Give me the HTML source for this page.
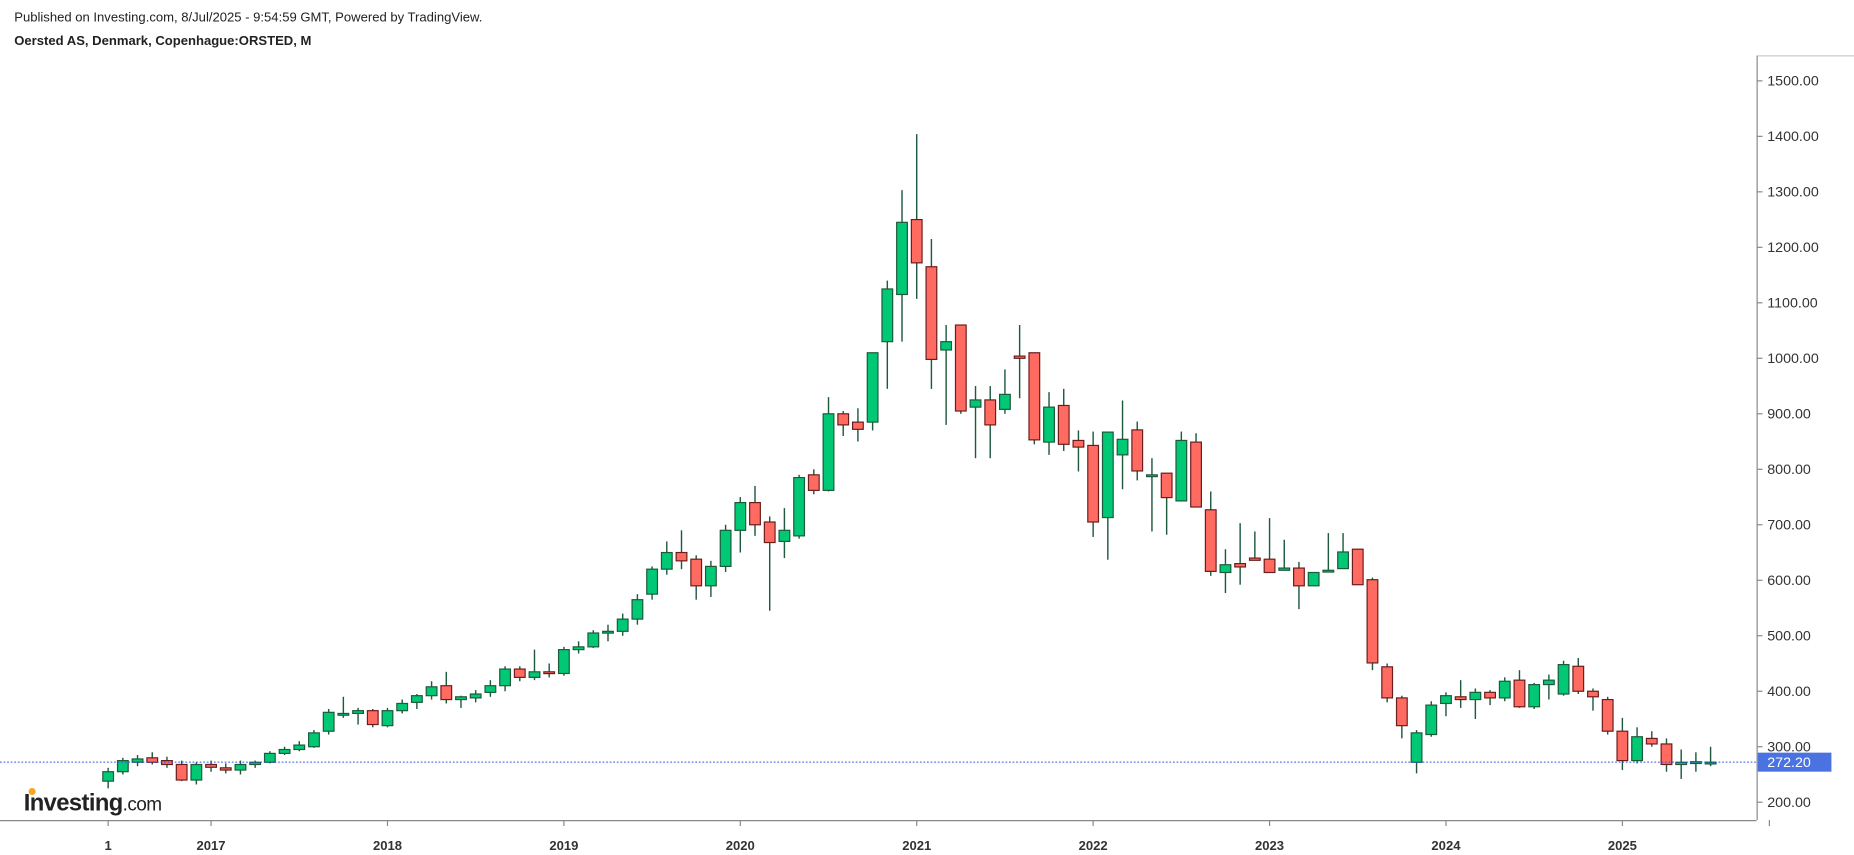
<!DOCTYPE html>
<html><head><meta charset="utf-8">
<style>
html,body{margin:0;padding:0;background:#fff;}
svg{display:block;font-family:"Liberation Sans",Arial,sans-serif;}
</style></head>
<body>
<svg id="chart" width="1854" height="855" viewBox="0 0 1560 719.4" xmlns="http://www.w3.org/2000/svg">
  <rect x="0" y="0" width="1560" height="720" fill="#fff"/>
  <text x="12" y="18" font-size="11" fill="#222">Published on Investing.com, 8/Jul/2025 - 9:54:59 GMT, Powered by TradingView.</text>
  <text x="12" y="38" font-size="11" font-weight="bold" fill="#222">Oersted AS, Denmark, Copenhague:ORSTED, M</text>
  <line x1="1478" y1="47" x2="1560" y2="47" stroke="#ccc"/>
  <line x1="1478.5" y1="47" x2="1478.5" y2="690" stroke="#888"/>
  <line x1="0" y1="690.5" x2="1478" y2="690.5" stroke="#888"/>
  <g id="yaxis"></g>
  <g id="xaxis"></g>
  <g id="candles"></g>
  <g id="last"></g>
  <g>
    <circle cx="27" cy="666" r="3" fill="#f5a623"/>
    <text x="20" y="682" font-size="20" font-weight="bold" fill="#222" letter-spacing="-0.5">Investing<tspan font-weight="normal" font-size="16">.com</tspan></text>
  </g>
</svg>
<script>
const yTicks = [200,300,400,500,600,700,800,900,1000,1100,1200,1300,1400,1500];
const xLabels = ["1","2017","2018","2019","2020","2021","2022","2023","2024","2025",""];
const xLabelIdx = [0,7,19,31,43,55,67,79,91,103,113];
const lastPrice = 272.20;
const opens = [238,255,272,280,275,268,240,
268,262,258,268,272,288,295,300,328,360,360,365,
338,365,380,392,410,385,388,398,410,440,425,435,
432,475,480,505,508,530,575,620,650,638,590,625,
690,740,705,670,680,790,762,900,885,885,1030,1115,
1250,1165,1015,1060,912,925,908,1004,1010,849,915,852,
843,713,826,871,790,793,743,849,727,614,630,640,
638,618,622,590,618,621,656,601,444,388,272,322,
378,390,385,398,388,420,372,412,395,445,400,385,
328,275,315,305,268,272,272];
const highs = [262,280,285,290,282,275,272,
275,270,275,275,292,300,310,330,368,390,370,368,
370,385,395,418,435,392,402,420,445,445,475,450,
480,490,510,520,540,575,625,670,690,645,635,700,
750,770,715,730,790,800,930,905,910,960,1140,1303,
1404,1215,1060,1060,950,950,980,1060,1010,939,945,870,
868,867,924,886,820,793,868,865,760,656,703,688,
712,673,633,614,685,685,656,605,450,392,330,382,
398,420,405,402,425,438,415,430,455,460,405,390,
352,335,328,315,295,290,300];
const lows = [225,250,265,268,262,238,232,
255,252,250,262,270,285,292,298,322,352,340,335,
335,360,368,385,378,370,380,390,400,418,420,425,
428,468,478,490,500,520,565,610,620,565,570,615,
650,680,545,640,675,755,760,860,850,870,945,1030,
1107,945,880,900,820,820,900,928,845,826,833,796,
678,637,764,780,688,682,743,732,608,577,592,636,
614,618,548,590,618,621,592,438,380,315,252,318,
355,370,350,375,382,370,368,385,392,395,365,322,
258,270,300,255,242,255,265];
const closes = [255,275,278,272,268,240,268,
263,258,268,272,288,295,303,325,362,360,365,340,
365,378,392,408,385,390,395,410,440,425,435,432,
475,480,505,508,530,565,620,650,635,590,625,690,
740,700,668,690,785,762,900,880,872,1010,1125,1245,
1172,998,1030,905,925,880,935,1000,853,912,845,840,
705,867,854,797,790,749,852,732,616,628,624,636,
614,622,590,614,618,651,592,451,388,338,325,375,
392,385,398,388,418,372,412,420,448,400,390,328,
275,318,305,268,272,273,272.2];

const NS = "http://www.w3.org/2000/svg";
function yScale(p){ return 675 - (p - 200) * 0.4669; }
function xScale(i){ return 91 + i * 12.37; }
function mk(tag, attrs, parent){ const e=document.createElementNS(NS,tag); for(const k in attrs) e.setAttribute(k,attrs[k]); parent.appendChild(e); return e; }

const ya = document.getElementById('yaxis');
yTicks.forEach(v=>{
  const y = yScale(v);
  const t = mk('line',{x1:1478,y1:y,x2:1483,y2:y,stroke:'#888'},ya);
  
  
  const lb = mk('text',{x:1487,y:y+4,'font-size':12,fill:'#333'},ya);
  lb.textContent = v.toFixed(2);
  
  
});
const xa = document.getElementById('xaxis');
xLabels.forEach((s,k)=>{
  const x = xScale(xLabelIdx[k]);
  const t = mk('line',{x1:x,y1:690,x2:x,y2:695,stroke:'#888'},xa);
  
  
  const lb = mk('text',{x:x,y:715,'font-size':11,'font-weight':'bold',fill:'#333','text-anchor':'middle'},xa);
  lb.textContent = s;
  
  
});
const cg = document.getElementById('candles');
for(let i=0;i<opens.length;i++){
  const x = xScale(i), o=opens[i], c=closes[i];
  const up = c >= o;
  const g = mk('g',{},cg);
  
  
  mk('line',{x1:x,y1:yScale(highs[i]),x2:x,y2:yScale(lows[i]),stroke:'#1f5a3f','stroke-width':1.2},g);
  const top = yScale(Math.max(o,c)), bot = yScale(Math.min(o,c));
  mk('rect',{x:x-4.5,y:top,width:9,height:Math.max(bot-top,1.5),fill:up?'#00c875':'#ff6b61',stroke:up?'#1b5a3a':'#6b1c1c','stroke-width':1},g);
}
const lg = document.getElementById('last');
const ly = yScale(lastPrice);
const ll = mk('line',{x1:0,y1:ly,x2:1478,y2:ly,stroke:'#3355dd','stroke-width':0.8,'stroke-dasharray':'1.5,1.5'},lg);


const lr = mk('rect',{x:1479,y:ly-8,width:62,height:16,fill:'#4a72e0'},lg);


const lt = mk('text',{x:1487,y:ly+4,'font-size':12,fill:'#fff'},lg);
lt.textContent = lastPrice.toFixed(2);


</script>
</body></html>
